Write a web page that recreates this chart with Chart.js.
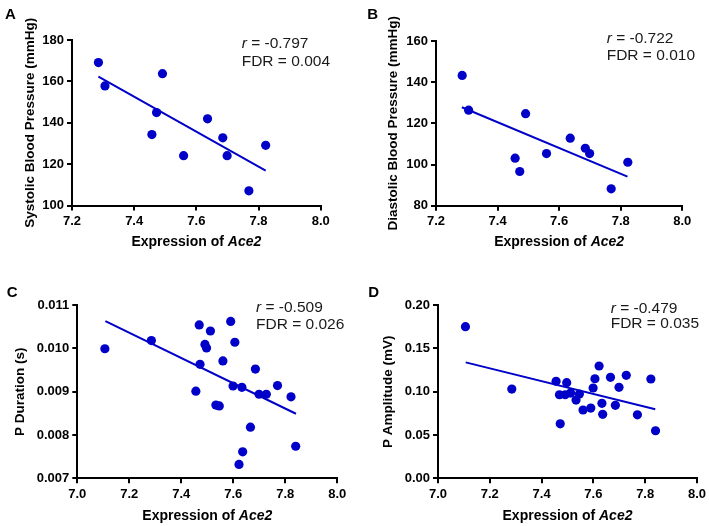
<!DOCTYPE html>
<html>
<head>
<meta charset="utf-8">
<title>Ace2 correlations</title>
<script src="https://cdn.jsdelivr.net/npm/chart.js@4.4.1/dist/chart.umd.min.js"></script>
<style>
  body { margin: 0; background: #fff; }
  #wrap { position: relative; width: 709px; height: 526px; }
  .panel { position: absolute; }
</style>
</head>
<body>
<div id="wrap">
  <div class="panel" style="left:0;top:0"><canvas id="chartA" width="354" height="263"></canvas></div>
  <div class="panel" style="left:354px;top:0"><canvas id="chartB" width="355" height="263"></canvas></div>
  <div class="panel" style="left:0;top:263px"><canvas id="chartC" width="354" height="263"></canvas></div>
  <div class="panel" style="left:354px;top:263px"><canvas id="chartD" width="355" height="263"></canvas></div>
</div>
<script>
// data
const exprBP = [7.285, 7.306, 7.491, 7.472, 7.457, 7.559, 7.636, 7.685, 7.699, 7.769, 7.823];
const systolic = [169.1, 157.8, 163.7, 144.9, 134.3, 124.1, 141.9, 132.7, 124.1, 107.1, 129.1];
const diastolic = [143.3, 126.4, 124.7, 96.6, 103.1, 105.3, 112.8, 107.9, 105.3, 88.2, 101.1];

const exprECG = [7.106, 7.285, 7.456, 7.469, 7.472, 7.491, 7.497, 7.512, 7.533, 7.546, 7.560, 7.590,
                 7.599, 7.606, 7.622, 7.633, 7.636, 7.666, 7.685, 7.699, 7.727, 7.770, 7.822, 7.840];
const pDuration = [0.00999, 0.01018, 0.00901, 0.01054, 0.00963, 0.01009, 0.01001, 0.01040, 0.00869, 0.00867, 0.00971, 0.01062,
                   0.00913, 0.01014, 0.00732, 0.00910, 0.00761, 0.00818, 0.00952, 0.00894, 0.00894, 0.00914, 0.00888, 0.00774];
const pAmplitude = [0.175, 0.103, 0.112, 0.0964, 0.0629, 0.0964, 0.1104, 0.0984, 0.0903, 0.0973, 0.0788, 0.0811,
                    0.1042, 0.1149, 0.1296, 0.0865, 0.0738, 0.1165, 0.0842, 0.1050, 0.1188, 0.0733, 0.1146, 0.0549];

// regression line end points
const fitXA = [7.285, 7.823], fitYA = [162.3, 116.9];
const fitXB = [7.284, 7.822], fitYB = [127.8, 94.1];
const fitXC = [7.108, 7.841], fitYC = [0.01063, 0.00849];
const fitXD = [7.107, 7.839], fitYD = [0.1338, 0.0796];

// ticks
const xTicksBP = [7.2, 7.4, 7.6, 7.8, 8.0];
const xTicksECG = [7.0, 7.2, 7.4, 7.6, 7.8, 8.0];
const yTicksA = [100, 120, 140, 160, 180];
const yTicksB = [80, 100, 120, 140, 160];
const yTicksC = [0.007, 0.008, 0.009, 0.010, 0.011];
const yTicksD = [0.00, 0.05, 0.10, 0.15, 0.20];

const FONT = "'Liberation Sans', Arial, sans-serif";
const BLUE = '#0000c8';

function toPoints(xs, ys) {
    return xs.map((x, i) => ({ x: x, y: ys[i] }));
}

function axis(ticksArr, decimals, fitSize, isX) {
    return {
        type: 'linear',
        min: ticksArr[0],
        max: ticksArr[ticksArr.length - 1],
        afterBuildTicks: s => { s.ticks = ticksArr.map(v => ({ value: v })); },
        afterFit: s => { if (isX) s.height = fitSize; else s.width = fitSize; },
        border: { color: '#000', width: 2 },
        grid: { drawOnChartArea: false, drawTicks: true, tickLength: 5, color: '#000', lineWidth: 2 },
        ticks: {
            color: '#000',
            padding: 3,
            autoSkip: false,
            maxRotation: 0,
            font: { family: FONT, size: 13, weight: 'bold' },
            callback: v => Number(v).toFixed(decimals)
        }
    };
}

// text drawn on top: panel letter, axis titles, r / FDR
const labelsPlugin = {
    id: 'panelLabels',
    afterDraw(chart) {
        const o = chart.options.plugins.panelLabels;
        const ctx = chart.ctx;
        const a = chart.chartArea;
        ctx.save();
        ctx.fillStyle = '#000';
        ctx.textBaseline = 'alphabetic';
        ctx.textAlign = 'left';
        ctx.font = 'bold 15px ' + FONT;
        ctx.fillText(o.letter, o.letterX, o.letterY);

        // y title
        ctx.save();
        ctx.translate(o.yTitleX, (a.top + a.bottom) / 2);
        ctx.rotate(-Math.PI / 2);
        ctx.textAlign = 'center';
        ctx.textBaseline = 'middle';
        ctx.font = 'bold 13.5px ' + FONT;
        ctx.fillText(o.yTitle, 0, 0);
        ctx.restore();

        // x title with italic gene name
        ctx.textBaseline = 'middle';
        ctx.font = 'bold 14px ' + FONT;
        const part1 = 'Expression of ';
        const w1 = ctx.measureText(part1).width;
        ctx.font = 'italic bold 14px ' + FONT;
        const w2 = ctx.measureText('Ace2').width;
        const x0 = (a.left + a.right) / 2 - (w1 + w2) / 2;
        ctx.font = 'bold 14px ' + FONT;
        ctx.fillText(part1, x0, o.xTitleY);
        ctx.font = 'italic bold 14px ' + FONT;
        ctx.fillText('Ace2', x0 + w1, o.xTitleY);

        // stats
        ctx.fillStyle = '#1a1a1a';
        ctx.font = 'italic 15.5px ' + FONT;
        ctx.fillText('r', o.statX, o.statY1);
        const wr = ctx.measureText('r').width;
        ctx.font = '15.5px ' + FONT;
        ctx.fillText(' = ' + o.r, o.statX + wr, o.statY1);
        ctx.fillText('FDR = ' + o.fdr, o.statX, o.statY2);
        ctx.restore();
    }
};

function makePanel(id, cfg) {
    const canvas = document.getElementById(id);
    const W = canvas.width, H = canvas.height;
    const xAxisH = 20;
    return new Chart(canvas.getContext('2d'), {
        type: 'scatter',
        data: {
            datasets: [
                {
                    data: toPoints(cfg.xs, cfg.ys),
                    backgroundColor: BLUE,
                    borderWidth: 0,
                    pointRadius: 4.6,
                    order: 1
                },
                {
                    data: toPoints(cfg.fitX, cfg.fitY),
                    showLine: true,
                    borderColor: BLUE,
                    borderWidth: 2,
                    pointRadius: 0,
                    order: 0
                }
            ]
        },
        options: {
            responsive: false,
            animation: false,
            layout: {
                padding: { left: 0, top: cfg.area.top, right: W - cfg.area.right, bottom: H - cfg.area.bottom - xAxisH }
            },
            scales: {
                x: axis(cfg.xTicks, 1, xAxisH, true),
                y: axis(cfg.yTicks, cfg.yDec, cfg.area.left, false)
            },
            plugins: {
                legend: { display: false },
                tooltip: { enabled: false },
                panelLabels: cfg.labels
            }
        },
        plugins: [labelsPlugin]
    });
}

makePanel('chartA', {
    xs: exprBP, ys: systolic, fitX: fitXA, fitY: fitYA,
    xTicks: xTicksBP, yTicks: yTicksA, yDec: 0,
    area: { left: 72, top: 40, right: 320.7, bottom: 205.5 },
    labels: { letter: 'A', letterX: 5, letterY: 18.5, yTitle: 'Systolic Blood Pressure (mmHg)', yTitleX: 30,
              xTitleY: 242.5, statX: 241.7, statY1: 43.3, statY2: 61.7, r: '-0.797', fdr: '0.004' }
});

makePanel('chartB', {
    xs: exprBP, ys: diastolic, fitX: fitXB, fitY: fitYB,
    xTicks: xTicksBP, yTicks: yTicksB, yDec: 0,
    area: { left: 82, top: 41, right: 328.3, bottom: 205.7 },
    labels: { letter: 'B', letterX: 13.3, letterY: 18.5, yTitle: 'Diastolic Blood Pressure (mmHg)', yTitleX: 39.3,
              xTitleY: 242.5, statX: 252.7, statY1: 38.3, statY2: 55.5, r: '-0.722', fdr: '0.010' }
});

makePanel('chartC', {
    xs: exprECG, ys: pDuration, fitX: fitXC, fitY: fitYC,
    xTicks: xTicksECG, yTicks: yTicksC, yDec: 3,
    area: { left: 77.3, top: 42, right: 337.3, bottom: 215.3 },
    labels: { letter: 'C', letterX: 6.7, letterY: 33.7, yTitle: 'P Duration (s)', yTitleX: 20.7,
              xTitleY: 253, statX: 256, statY1: 44.7, statY2: 62, r: '-0.509', fdr: '0.026' }
});

makePanel('chartD', {
    xs: exprECG, ys: pAmplitude, fitX: fitXD, fitY: fitYD,
    xTicks: xTicksECG, yTicks: yTicksD, yDec: 2,
    area: { left: 84, top: 42, right: 346.5, bottom: 215.3 },
    labels: { letter: 'D', letterX: 14.3, letterY: 34.3, yTitle: 'P Amplitude (mV)', yTitleX: 34.3,
              xTitleY: 253, statX: 256.7, statY1: 45.3, statY2: 61, r: '-0.479', fdr: '0.035' }
});
</script>
</body>
</html>
